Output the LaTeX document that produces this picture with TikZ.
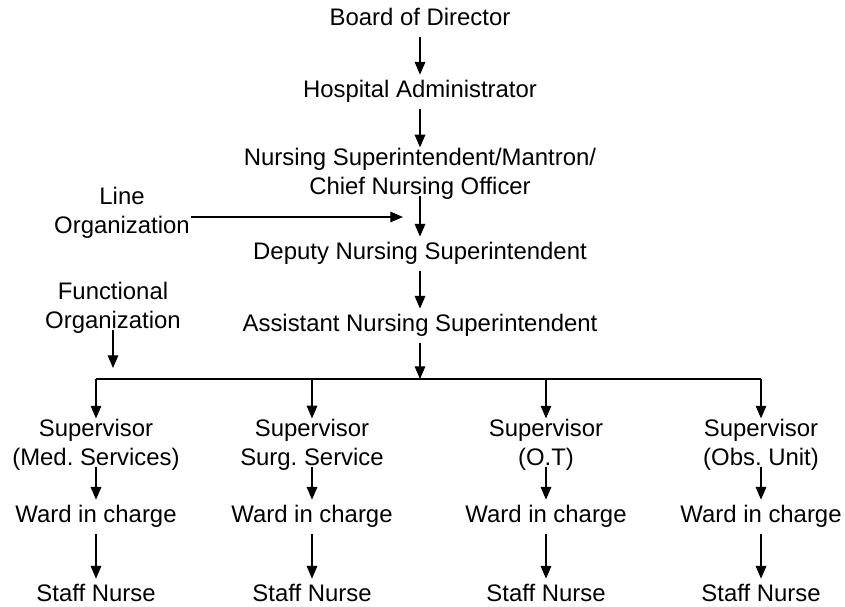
\documentclass[tikz,border=0pt]{standalone}
\usepackage{fontspec}
\setmainfont{Liberation Sans}
\usepackage{tikz}
\usetikzlibrary{arrows.meta}
\frenchspacing

\tikzset{
  box/.style={font=\fontsize{17}{20.6}\selectfont, inner xsep=1pt, inner ysep=4.3pt, text height=12.1pt, text depth=3.6pt},
  twobox/.style={font=\fontsize{17}{20.6}\selectfont, align=center, inner xsep=1pt, inner ysep=0.5pt},
  arr/.style={-{Triangle[length=9pt,width=7.5pt]}, line width=0.9pt},
  fromtwo/.style={arr, shorten <=-3pt}
}

\begin{document}
\begin{tikzpicture}[x=0.025cm,y=-0.025cm]
\useasboundingbox (0,0) rectangle (845,606);

\node [box] (board) at (420,20) {Board of Director};
\node [box] (hosp) at (420,92) {Hospital Administrator};
\node [twobox] (nsup) at (420,174) {Nursing Superintendent/Mantron/\\Chief Nursing Officer};
\node [box] (deputy) at (420,254) {Deputy Nursing Superintendent};
\node [box] (asst) at (420,326) {Assistant Nursing Superintendent};

\node [twobox] (lineorg) at (122,213) {Line\\Organization};
\node [twobox] (funcorg) at (113,308) {Functional\\Organization};

\coordinate (lineend) at (403,217);
\coordinate (funcend) at (113,368);
\coordinate (barmid) at (420,379);
\coordinate (bar1) at (96,379);
\coordinate (bar2) at (312,379);
\coordinate (bar3) at (546,379);
\coordinate (bar4) at (761,379);

\node [twobox] (sup1) at (96,445) {Supervisor\\(Med. Services)};
\node [twobox] (sup2) at (312,445) {Supervisor\\Surg. Service};
\node [twobox] (sup3) at (546,445) {Supervisor\\(O.T)};
\node [twobox] (sup4) at (761,445) {Supervisor\\(Obs. Unit)};

\node [box] (ward1) at (96,517) {Ward in charge};
\node [box] (ward2) at (312,517) {Ward in charge};
\node [box] (ward3) at (546,517) {Ward in charge};
\node [box] (ward4) at (761,517) {Ward in charge};

\node [box] (staff1) at (96,596) {Staff Nurse};
\node [box] (staff2) at (312,596) {Staff Nurse};
\node [box] (staff3) at (546,596) {Staff Nurse};
\node [box] (staff4) at (761,596) {Staff Nurse};

\draw [arr] (board) -- (hosp);
\draw [arr] (hosp) -- (nsup);
\draw [fromtwo] (nsup) -- (deputy);
\draw [arr] (deputy) -- (asst);
\draw [arr] (asst) -- (barmid);

\draw [arr] (lineorg.east |- lineend) -- (lineend);
\draw [fromtwo] (funcorg) -- (funcend);

\draw [line width=0.9pt] (bar1) -- (bar4);
\draw [arr] (bar1) -- (sup1);
\draw [arr] (bar2) -- (sup2);
\draw [arr] (bar3) -- (sup3);
\draw [arr] (bar4) -- (sup4);

\draw [fromtwo] (sup1) -- (ward1);
\draw [fromtwo] (sup2) -- (ward2);
\draw [fromtwo] (sup3) -- (ward3);
\draw [fromtwo] (sup4) -- (ward4);

\draw [arr] (ward1) -- (staff1);
\draw [arr] (ward2) -- (staff2);
\draw [arr] (ward3) -- (staff3);
\draw [arr] (ward4) -- (staff4);

\end{tikzpicture}
\end{document}
